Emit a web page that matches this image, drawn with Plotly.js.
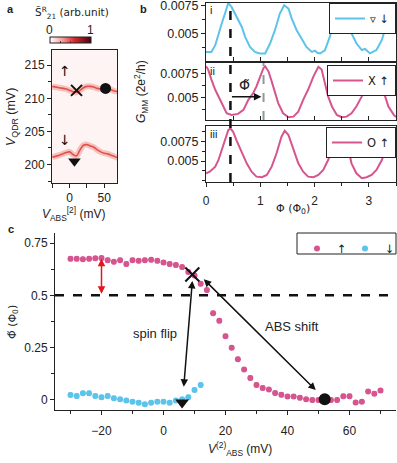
<!DOCTYPE html>
<html>
<head>
<meta charset="utf-8">
<script src="https://cdn.plot.ly/plotly-3.0.1.min.js"></script>
<style>body{margin:0}#plot{width:397px;height:463px}</style>
</head>
<body>
<div id="plot"></div>
<script>
// panel a: ridge positions
var ridgeV = [-25, -15, -5, 0, 5, 10, 15, 20, 25, 30, 35, 40, 45, 50, 55, 60, 65, 70];
var ridgeUp = [211.8, 211.6, 211.4, 211.2, 211.0, 210.9, 211.2, 211.6, 211.8, 211.8, 211.7, 211.5, 211.4, 211.5, 211.5, 211.3, 211.1, 211.0];
var ridgeDown = [201.1, 201.4, 201.8, 201.9, 201.5, 201.3, 202.2, 202.9, 203.0, 202.8, 202.6, 202.2, 201.9, 201.7, 201.6, 201.4, 201.2, 201.0];
var bgLevel = 0.035;

// panel b: G_MM vs flux
var phiI = [0.0, 0.1, 0.17, 0.23, 0.29, 0.35, 0.41, 0.47, 0.53, 0.59, 0.66, 0.72, 0.81, 0.9, 0.99, 1.09, 1.18, 1.27, 1.36, 1.44, 1.52, 1.58, 1.67, 1.76, 1.85, 1.95, 2.01, 2.05, 2.1, 2.19, 2.28, 2.38, 2.44, 2.5, 2.59, 2.68, 2.77, 2.87, 2.93, 3.02, 3.14, 3.24, 3.3, 3.36, 3.42, 3.5];
var gI = [0.00333, 0.00333, 0.00393, 0.0050, 0.00587, 0.00676, 0.0077, 0.00735, 0.00676, 0.00616, 0.00556, 0.00467, 0.00378, 0.00333, 0.00319, 0.00319, 0.00408, 0.00527, 0.00676, 0.0075, 0.0072, 0.0063, 0.00527, 0.00453, 0.00378, 0.00333, 0.00345, 0.00325, 0.00319, 0.00348, 0.00467, 0.00645, 0.00735, 0.0072, 0.0057, 0.0050, 0.0041, 0.0035, 0.0036, 0.0032, 0.0035, 0.0044, 0.0054, 0.0065, 0.0074, 0.0068];
var phiII = [0, 0.04, 0.1, 0.17, 0.26, 0.32, 0.38, 0.47, 0.59, 0.69, 0.78, 0.87, 0.93, 1.0, 1.06, 1.09, 1.15, 1.21, 1.27, 1.33, 1.42, 1.52, 1.61, 1.7, 1.79, 1.88, 1.98, 2.07, 2.13, 2.19, 2.25, 2.32, 2.41, 2.5, 2.59, 2.68, 2.77, 2.87, 2.93, 3.0, 3.06, 3.12, 3.18, 3.24, 3.3, 3.36, 3.46, 3.5];
var gII = [0.00826, 0.00792, 0.00688, 0.00583, 0.00479, 0.0041, 0.0034, 0.00323, 0.00333, 0.00375, 0.00479, 0.00549, 0.00618, 0.00722, 0.00809, 0.00826, 0.00774, 0.0067, 0.00549, 0.00445, 0.0034, 0.00299, 0.00305, 0.00357, 0.00479, 0.00583, 0.00722, 0.0082, 0.00792, 0.00653, 0.00514, 0.0041, 0.00323, 0.00299, 0.00305, 0.0034, 0.0041, 0.00514, 0.00618, 0.0074, 0.0082, 0.0078, 0.0070, 0.00618, 0.00514, 0.0041, 0.00323, 0.0030];
var phiIII = [0, 0.07, 0.17, 0.23, 0.29, 0.35, 0.41, 0.45, 0.5, 0.56, 0.66, 0.75, 0.84, 0.93, 1.03, 1.12, 1.21, 1.3, 1.39, 1.45, 1.52, 1.61, 1.7, 1.79, 1.88, 1.98, 2.07, 2.16, 2.25, 2.34, 2.41, 2.47, 2.53, 2.62, 2.68, 2.77, 2.87, 2.96, 3.05, 3.14, 3.24, 3.3, 3.38, 3.45, 3.5];
var gIII = [0.00342, 0.00363, 0.00427, 0.00513, 0.00641, 0.00769, 0.00897, 0.00919, 0.00876, 0.00769, 0.00619, 0.0047, 0.00363, 0.00299, 0.00291, 0.0032, 0.00427, 0.00599, 0.00812, 0.00888, 0.00833, 0.00641, 0.0047, 0.00363, 0.00299, 0.00291, 0.0032, 0.00385, 0.00513, 0.00683, 0.00812, 0.0089, 0.0085, 0.00663, 0.0047, 0.00342, 0.00278, 0.00291, 0.0032, 0.00385, 0.00513, 0.00641, 0.0080, 0.0089, 0.0087];
var phiMark = 0.45;
var phiShift = 1.06;

// panel c: phase shift vs V_ABS
var vUp = [-30, -28, -26, -24, -22, -20, -18, -16, -14, -12, -10, -8, -6, -4, -2, 0, 2, 4, 6, 8, 10, 12, 14, 16, 18, 20, 22, 24, 26, 28, 30, 32, 34, 36, 38, 40, 42, 44, 46, 48, 50, 52, 54, 56, 58, 60, 62, 64, 66, 68, 70];
var phiUp = [0.675, 0.675, 0.673, 0.675, 0.677, 0.678, 0.668, 0.66, 0.668, 0.65, 0.668, 0.665, 0.668, 0.67, 0.665, 0.657, 0.65, 0.645, 0.635, 0.612, 0.595, 0.555, 0.525, 0.415, 0.378, 0.305, 0.25, 0.195, 0.145, 0.105, 0.072, 0.057, 0.05, 0.033, 0.025, 0.017, 0.017, 0.01, 0.003, 0.0, 0.0, 0.0, 0.0, 0.0, 0.018, 0.018, -0.012, -0.008, 0.04, 0.03, 0.045];
var vDown = [-30, -28, -26, -24, -22, -20, -18, -16, -14, -12, -10, -8, -6, -4, -2, 0, 2, 4, 6, 8, 10, 12];
var phiDown = [0.024, 0.019, 0.032, 0.032, 0.019, 0.013, 0.019, 0.008, 0.003, -0.003, -0.008, -0.013, -0.021, -0.013, -0.008, -0.008, -0.013, -0.003, 0.003, 0.013, 0.048, 0.072];

var pink = '#d6558f';
var blue = '#5cc3ea';
var font = 'Liberation Sans, Arial, sans-serif';
var markFont = 'DejaVu Sans, sans-serif';
function px(x) { return x / 397; }
function py(y) { return 1 - y / 463; }

var data = [
  {type: 'heatmap', x: [-30, 75], y: [195, 220], z: [[bgLevel]], zmin: 0, zmax: 1,
   colorscale: [[0, '#ffffff'], [0.3, '#f4a09a'], [0.6, '#d8282c'], [1, '#4a0010']],
   hoverinfo: 'skip', xaxis: 'x', yaxis: 'y',
   colorbar: {orientation: 'h', x: px(50), xanchor: 'left', y: py(46), yanchor: 'bottom',
     len: 41, lenmode: 'pixels', thickness: 6, outlinewidth: 1, outlinecolor: '#222',
     tickvals: [0, 0.25, 0.5, 0.75, 1], ticks: 'inside', ticklen: 2, showticklabels: false, xpad: 0, ypad: 0}},
  {x: ridgeV, y: ridgeUp, mode: 'lines', line: {color: 'rgba(228,80,74,0.3)', width: 6, shape: 'spline'}, xaxis: 'x', yaxis: 'y', showlegend: false},
  {x: ridgeV, y: ridgeUp, mode: 'lines', line: {color: '#e4504a', width: 1.6, shape: 'spline'}, xaxis: 'x', yaxis: 'y', showlegend: false},
  {x: ridgeV, y: ridgeDown, mode: 'lines', line: {color: 'rgba(228,80,74,0.3)', width: 6, shape: 'spline'}, xaxis: 'x', yaxis: 'y', showlegend: false},
  {x: ridgeV, y: ridgeDown, mode: 'lines', line: {color: '#e4504a', width: 1.6, shape: 'spline'}, xaxis: 'x', yaxis: 'y', showlegend: false},
  {x: [10], y: [211.2], mode: 'markers', marker: {symbol: 'x-thin-open', size: 11, color: '#111', line: {width: 2, color: '#111'}}, xaxis: 'x', yaxis: 'y', showlegend: false},
  {x: [52], y: [211.5], mode: 'markers', marker: {symbol: 'circle', size: 11, color: '#111'}, xaxis: 'x', yaxis: 'y', showlegend: false},
  {x: [7], y: [200.5], mode: 'markers', marker: {symbol: 'triangle-down', size: 11, color: '#111'}, xaxis: 'x', yaxis: 'y', showlegend: false},

  {x: phiI, y: gI, mode: 'lines', name: '\u25BF \u2193', line: {color: blue, width: 2}, xaxis: 'x2', yaxis: 'y2', legend: 'legend2'},
  {x: phiII, y: gII, mode: 'lines', name: 'X \u2191', line: {color: pink, width: 2}, xaxis: 'x3', yaxis: 'y3', legend: 'legend3'},
  {x: phiIII, y: gIII, mode: 'lines', name: 'O \u2191', line: {color: pink, width: 2}, xaxis: 'x4', yaxis: 'y4', legend: 'legend4'},

  {x: vUp, y: phiUp, mode: 'markers', name: '\u2191', marker: {color: pink, size: 6},
   error_y: {type: 'constant', value: 0.008, color: pink, thickness: 1.5, width: 2},
   error_x: {type: 'constant', value: 0.7, color: pink, thickness: 2, width: 0},
   xaxis: 'x5', yaxis: 'y5', legend: 'legend'},
  {x: vDown, y: phiDown, mode: 'markers', name: '\u2193', marker: {color: blue, size: 6},
   error_y: {type: 'constant', value: 0.008, color: blue, thickness: 1.5, width: 2},
   error_x: {type: 'constant', value: 0.7, color: blue, thickness: 2, width: 0},
   xaxis: 'x5', yaxis: 'y5', legend: 'legend5'},
  {x: [9.3], y: [0.60], mode: 'markers', marker: {symbol: 'x-thin-open', size: 14, color: '#111', line: {width: 2, color: '#111'}}, xaxis: 'x5', yaxis: 'y5', showlegend: false},
  {x: [52], y: [0.003], mode: 'markers', marker: {symbol: 'circle', size: 12, color: '#111'}, xaxis: 'x5', yaxis: 'y5', showlegend: false},
  {x: [6], y: [-0.012], mode: 'markers', marker: {symbol: 'triangle-down', size: 12, color: '#111'}, xaxis: 'x5', yaxis: 'y5', showlegend: false}
];

var axBase = {showline: true, linecolor: '#222', linewidth: 1, ticks: 'outside', ticklen: 4, tickcolor: '#222',
  zeroline: false, showgrid: false, ticklabeloverflow: 'allow', automargin: false, tickfont: {size: 11, color: '#222'}};
function ax(o) { return Object.assign({}, axBase, o); }

var bY = {tickmode: 'array', tickvals: [0.005, 0.0075], ticktext: ['0.005', '0.0075'], mirror: true, tickfont: {size: 12.5, color: '#222'},
  minor: {tickvals: [0.0025, 0.00375, 0.00625, 0.00875], ticks: 'outside', ticklen: 3, tickcolor: '#222'}};
var bX = {range: [0, 3.5], dtick: 0.5, mirror: true, showticklabels: false, ticks: 'inside', ticklen: 4};

function legendBox(y) {
  return {x: px(396), y: y, xanchor: 'right', yanchor: 'top', bordercolor: '#222', borderwidth: 1, bgcolor: '#fff',
    font: {family: markFont, size: 11.5, color: '#222'}, itemwidth: 30, tracegroupgap: 0};
}
function legendBare(x) {
  return {x: x, y: py(234), xanchor: 'left', yanchor: 'top', borderwidth: 0, bgcolor: 'rgba(0,0,0,0)',
    font: {family: markFont, size: 11.5, color: '#222'}, itemwidth: 30, tracegroupgap: 0};
}

var annBase = {showarrow: false, xanchor: 'center', yanchor: 'middle', font: {size: 11, color: '#222'}};
function ann(o) { return Object.assign({}, annBase, o); }

var layout = {
  width: 397, height: 463, margin: {l: 0, r: 0, t: 0, b: 0, autoexpand: false},
  paper_bgcolor: '#fff', plot_bgcolor: 'rgba(0,0,0,0)',
  font: {family: font, color: '#222', size: 11},
  xaxis: ax({domain: [px(52), px(117)], range: [-25.5, 68.6], tickvals: [-25, 0, 25, 50], ticktext: ['', '0', '', '50'], mirror: true, anchor: 'y',
    tickfont: {size: 12, color: '#222'}}),
  yaxis: ax({domain: [py(183), py(50)], range: [197.2, 217.3], tick0: 0, dtick: 5, mirror: true, anchor: 'x',
    tickfont: {size: 12, color: '#222'}, minor: {dtick: 2.5, ticks: 'outside', ticklen: 3, tickcolor: '#222'}}),
  xaxis2: ax(Object.assign({domain: [px(206), px(396)], anchor: 'y2'}, bX)),
  yaxis2: ax(Object.assign({domain: [py(61), py(3)], range: [0.00252, 0.0077], anchor: 'x2'}, bY)),
  xaxis3: ax(Object.assign({domain: [px(206), px(396)], anchor: 'y3'}, bX)),
  yaxis3: ax(Object.assign({domain: [py(120), py(63)], range: [0.0027, 0.0086], anchor: 'x3'}, bY)),
  xaxis4: ax({domain: [px(206), px(396)], anchor: 'y4', range: [0, 3.5], dtick: 1, mirror: true, ticklabelstandoff: 4,
    tickfont: {size: 12, color: '#222'}, minor: {dtick: 0.5, ticks: 'outside', ticklen: 3, tickcolor: '#222'}}),
  yaxis4: ax(Object.assign({domain: [py(182), py(126)], range: [0.0023, 0.0095], anchor: 'x4'}, bY)),
  xaxis5: ax({domain: [px(55), px(396)], range: [-35, 75], tick0: 0, dtick: 20, anchor: 'y5', ticklabelstandoff: 6,
    tickfont: {size: 12, color: '#222'}, minor: {dtick: 10, ticks: 'outside', ticklen: 3, tickcolor: '#222'}}),
  yaxis5: ax({domain: [py(410), py(233)], range: [-0.048, 0.798], tickmode: 'array', tickvals: [0, 0.25, 0.5, 0.75], ticktext: ['0', '0.25', '0.5', '0.75'],
    anchor: 'x5', tickfont: {size: 12, color: '#222'},
    minor: {tickvals: [0.125, 0.375, 0.625], ticks: 'outside', ticklen: 3, tickcolor: '#222'}}),
  showlegend: true,
  legend: legendBare(px(297)),
  legend5: legendBare(px(345)),
  legend2: legendBox(py(3)),
  legend3: legendBox(py(65)),
  legend4: legendBox(py(127)),
  shapes: [
    {type: 'line', xref: 'x2', yref: 'paper', x0: phiMark, x1: phiMark, y0: py(182), y1: py(3), line: {color: '#111', width: 2.5, dash: 'dash'}},
    {type: 'line', xref: 'x3', yref: 'y3', x0: phiShift, x1: phiShift, y0: 0.0027, y1: 0.0086, line: {color: '#8c9c94', width: 2, dash: 'dash'}},
    {type: 'line', xref: 'paper', yref: 'y5', x0: px(55), x1: px(397), y0: 0.5, y1: 0.5, line: {color: '#111', width: 2.5, dash: 'dash'}},
    {type: 'rect', xref: 'paper', yref: 'paper', x0: px(297), x1: px(396), y0: py(254), y1: py(233), fillcolor: '#fff', line: {color: '#222', width: 1}}
  ],
  annotations: [
    ann({text: '<b>a</b>', xref: 'paper', yref: 'paper', x: px(5), y: py(9), xanchor: 'left', font: {size: 11}}),
    ann({text: '<b>b</b>', xref: 'paper', yref: 'paper', x: px(138), y: py(9), xanchor: 'left', font: {size: 11}}),
    ann({text: '<b>c</b>', xref: 'paper', yref: 'paper', x: px(6), y: py(229), xanchor: 'left', font: {size: 11}}),
    ann({text: 'S\u0303<sup>R</sup><sub>21</sub> (arb.unit)', xref: 'paper', yref: 'paper', x: px(72), y: py(13), font: {family: markFont, size: 10.5}}),
    ann({text: '0', xref: 'paper', yref: 'paper', x: px(49), y: py(30), font: {size: 12}}),
    ann({text: '1', xref: 'paper', yref: 'paper', x: px(90), y: py(30), font: {size: 12}}),
    ann({text: '\u2191', xref: 'x', yref: 'y', x: -6, y: 214.2, font: {family: markFont, size: 14, color: '#111'}}),
    ann({text: '\u2193', xref: 'x', yref: 'y', x: -6, y: 203.7, font: {family: markFont, size: 14, color: '#111'}}),
    ann({text: '<i>V</i><sub>QDR</sub> (mV)', xref: 'paper', yref: 'paper', x: px(12), y: py(117), textangle: -90, font: {size: 12.5}}),
    ann({text: '<i>V</i><sub>ABS</sub><sup>[2]</sup> (mV)', xref: 'paper', yref: 'paper', x: px(73), y: py(214), font: {size: 12}}),
    ann({text: 'i', xref: 'paper', yref: 'paper', x: px(208), y: py(10), xanchor: 'left'}),
    ann({text: 'ii', xref: 'paper', yref: 'paper', x: px(208), y: py(71), xanchor: 'left'}),
    ann({text: 'iii', xref: 'paper', yref: 'paper', x: px(208), y: py(134), xanchor: 'left'}),
    ann({text: '<i>G</i><sub>MM</sub> (2e<sup>2</sup>/h)', xref: 'paper', yref: 'paper', x: px(141), y: py(92), textangle: -90, font: {size: 12}}),
    ann({text: '\u03A6 (\u03A6<sub>0</sub>)', xref: 'paper', yref: 'paper', x: px(293), y: py(209), font: {family: markFont, size: 11}}),
    ann({text: '\u03A6\u0303', xref: 'x3', yref: 'y3', x: 0.7, y: 0.0063, font: {family: markFont, size: 14}}),
    {xref: 'x3', yref: 'y3', axref: 'x3', ayref: 'y3', x: 1.02, y: 0.0051, ax: phiMark, ay: 0.0051, text: '', showarrow: true,
     arrowhead: 2, arrowsize: 1, arrowwidth: 1.5, arrowcolor: '#111'},
    {xref: 'x5', yref: 'y5', axref: 'x5', ayref: 'y5', x: -20, y: 0.675, ax: -20, ay: 0.5, text: '', showarrow: true,
     arrowhead: 2, arrowside: 'end+start', arrowsize: 1, arrowwidth: 1.5, arrowcolor: '#e8141c'},
    {xref: 'x5', yref: 'y5', axref: 'x5', ayref: 'y5', x: 9.3, y: 0.569, ax: 6.5, ay: 0.056, text: '', showarrow: true,
     arrowhead: 2, arrowside: 'end+start', arrowsize: 1, arrowwidth: 1.5, arrowcolor: '#111'},
    {xref: 'x5', yref: 'y5', axref: 'x5', ayref: 'y5', x: 13, y: 0.577, ax: 49.6, ay: 0.04, text: '', showarrow: true,
     arrowhead: 2, arrowside: 'end+start', arrowsize: 1, arrowwidth: 1.5, arrowcolor: '#111'},
    ann({text: 'spin flip', xref: 'paper', yref: 'paper', x: px(155), y: py(333), font: {size: 13}}),
    ann({text: 'ABS shift', xref: 'paper', yref: 'paper', x: px(292), y: py(326), font: {size: 13}}),
    ann({text: '\u03A6\u0303 (\u03A6<sub>0</sub>)', xref: 'paper', yref: 'paper', x: px(13), y: py(322), textangle: -90, font: {family: markFont, size: 11}}),
    ann({text: '<i>V</i><sup>(2)</sup><sub>ABS</sub> (mV)', xref: 'paper', yref: 'paper', x: px(240), y: py(449), font: {size: 12}})
  ]
};

Plotly.newPlot('plot', data, layout, {displayModeBar: false, staticPlot: true});
</script>
</body>
</html>
